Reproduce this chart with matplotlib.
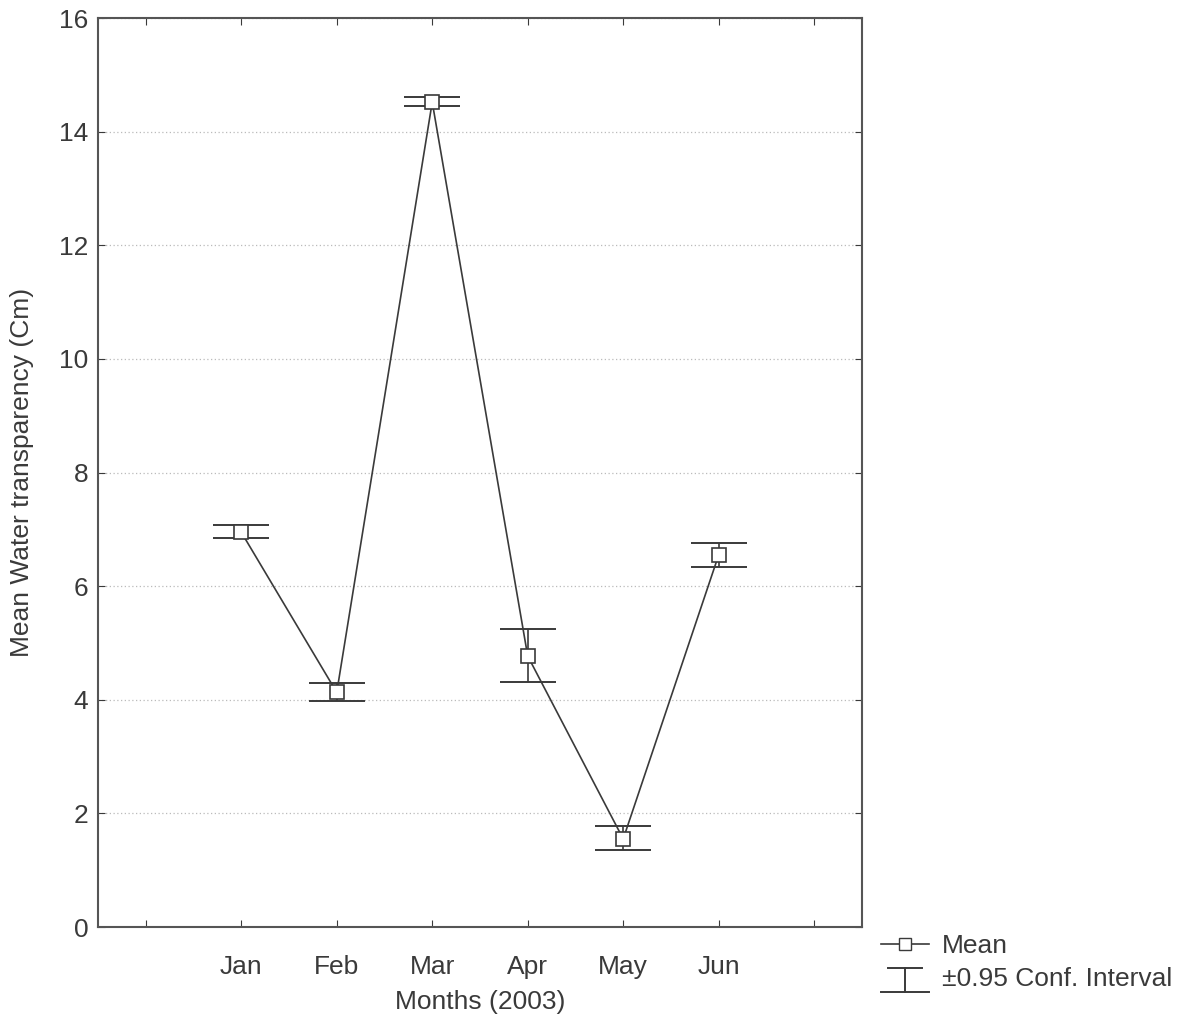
import matplotlib.pyplot as plt
from matplotlib.lines import Line2D
from matplotlib.legend_handler import HandlerBase

plt.rcParams["font.family"] = ["Liberation Sans", "DejaVu Sans"]

months = ["Jan", "Feb", "Mar", "Apr", "May", "Jun"]
mean_vals = [6.95, 4.13, 14.52, 4.77, 1.55, 6.55]
ci_low = [6.84, 3.97, 14.45, 4.31, 1.35, 6.34]
ci_high = [7.08, 4.29, 14.61, 5.24, 1.77, 6.76]

ink = "#3a3a3a"
x = list(range(1, len(months) + 1))


class CIHandler(HandlerBase):
    # small "T" with a longer base line, like the Statistica legend key
    def create_artists(self, legend, orig, xd, yd, w, h, fontsize, trans):
        cx = xd + w / 2
        top = yd + h * 1.0
        bot = yd - h * 0.35
        arts = [
            Line2D([cx - w * 0.35, cx + w * 0.35], [top, top]),
            Line2D([cx, cx], [top, bot]),
            Line2D([xd, xd + w], [bot, bot]),
        ]
        for a in arts:
            a.set_color(ink)
            a.set_linewidth(1.4)
            a.set_transform(trans)
        return arts


fig = plt.figure(figsize=(11.91, 10.25), dpi=100)
ax = fig.add_axes([0.0823, 0.0956, 0.6414, 0.8868])

lo_err = [m - l for m, l in zip(mean_vals, ci_low)]
hi_err = [h - m for m, h in zip(mean_vals, ci_high)]
ax.errorbar(x, mean_vals, yerr=[lo_err, hi_err], fmt="none", ecolor=ink,
            elinewidth=1.2, capsize=20, capthick=1.4, zorder=2)
ax.plot(x, mean_vals, color=ink, lw=1.2, marker="s", markersize=9.5,
        markerfacecolor="white", markeredgecolor=ink, markeredgewidth=1.2, zorder=3)

ax.set_xlim(-0.5, 7.5)
ax.set_ylim(0, 16)
ax.set_xticks(range(0, 8))
ax.set_xticklabels([""] + months + [""])
ax.set_yticks(range(0, 17, 2))
ax.grid(axis="y", linestyle=(0, (1, 2)), color="#bbbbbb", lw=0.9)
ax.set_axisbelow(True)

ax.tick_params(direction="in", top=True, right=True, length=5, color=ink,
               labelsize=19, labelcolor=ink)
ax.tick_params(axis="x", pad=20)
ax.tick_params(axis="y", pad=7)
for s in ax.spines.values():
    s.set_color("#555555")
    s.set_linewidth(1.5)

ax.set_xlabel("Months (2003)", fontsize=19, color=ink, labelpad=8)
ax.set_ylabel("Mean Water transparency (Cm)", fontsize=19, color=ink, labelpad=18)

ci_key = object()
handles = [
    Line2D([], [], color=ink, lw=1.2, marker="s", markersize=8,
           markerfacecolor="white", markeredgecolor=ink),
    ci_key,
]
fig.legend(handles, ["Mean", "\u00b10.95 Conf. Interval"], loc="lower left",
           bbox_to_anchor=(0.72, 0.01), frameon=False, fontsize=19,
           labelcolor=ink, handlelength=1.8, handletextpad=0.5, labelspacing=0.35,
           handler_map={ci_key: CIHandler()})

fig.savefig("out.png", dpi=100)
